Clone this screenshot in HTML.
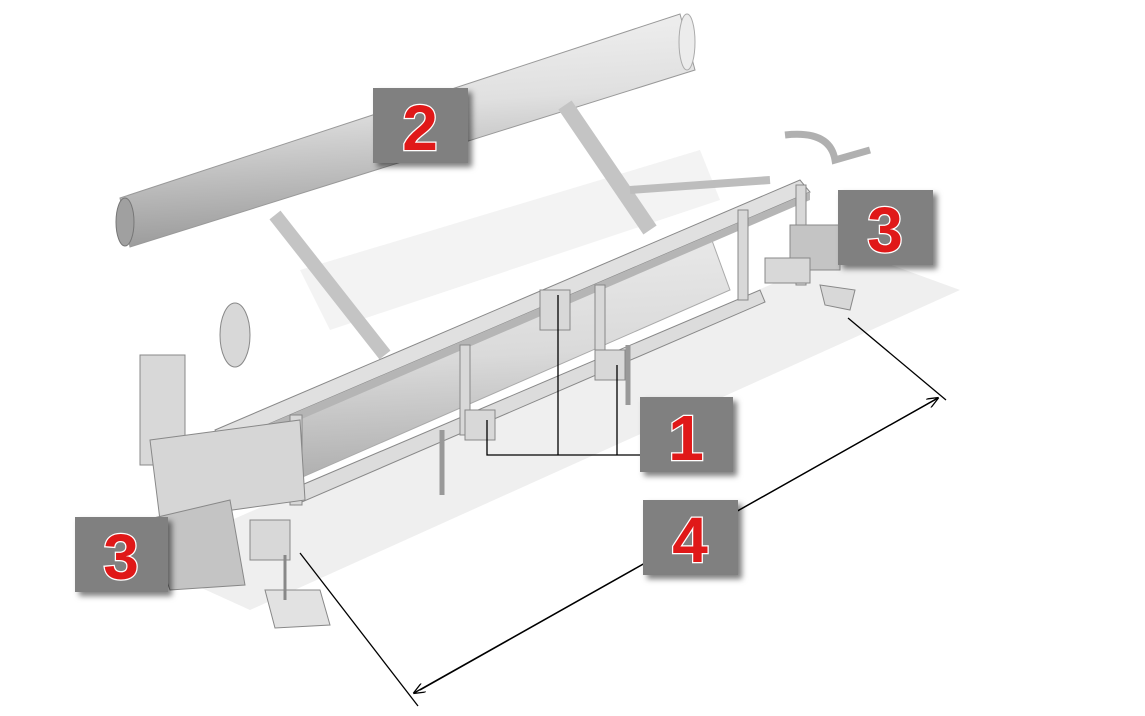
<!DOCTYPE html>
<html><head><style>
html,body{margin:0;padding:0;background:#fff;}
svg{display:block}
.lbl{font-family:"Liberation Sans",sans-serif;font-weight:bold;font-size:64px;fill:#e01818;stroke:#fff;stroke-width:2.5px;paint-order:stroke;}
</style></head><body>
<svg width="1145" height="716" viewBox="0 0 1145 716" xmlns="http://www.w3.org/2000/svg">
<defs>
<linearGradient id="pipe" x1="0" y1="0" x2="0.15" y2="1">
<stop offset="0" stop-color="#f4f4f4"/><stop offset="0.45" stop-color="#e0e0e0"/><stop offset="1" stop-color="#9a9a9a"/>
</linearGradient>
<linearGradient id="pipe2" x1="0" y1="0" x2="0.1" y2="1">
<stop offset="0" stop-color="#ececec"/><stop offset="0.5" stop-color="#dadada"/><stop offset="1" stop-color="#a8a8a8"/>
</linearGradient>
<filter id="sh" x="-20%" y="-20%" width="150%" height="150%"><feDropShadow dx="4" dy="4" stdDeviation="3" flood-color="#000" flood-opacity="0.5"/></filter>
<marker id="ar" markerWidth="12" markerHeight="10" refX="11" refY="5" orient="auto" markerUnits="userSpaceOnUse"><path d="M0,0 L12,5 L0,10" fill="none" stroke="#000" stroke-width="1.3"/></marker>
</defs>
<polygon points="140,560 250,610 960,290 850,250" fill="#efefef"/>
<polygon points="300,270 700,150 720,200 330,330" fill="#f3f3f3"/>
<polygon points="120,198 680,14 695,70 130,247" fill="url(#pipe)" stroke="#999" stroke-width="1"/>
<ellipse cx="125" cy="222" rx="9" ry="24" fill="#a0a0a0" stroke="#777"/>
<ellipse cx="687" cy="42" rx="8" ry="28" fill="#ececec" stroke="#aaa"/>
<line x1="275" y1="215" x2="385" y2="355" stroke="#c4c4c4" stroke-width="14"/>
<line x1="565" y1="105" x2="650" y2="230" stroke="#c4c4c4" stroke-width="16"/>
<line x1="630" y1="190" x2="770" y2="180" stroke="#bdbdbd" stroke-width="8"/>
<polygon points="230,440 710,235 730,290 250,500" fill="url(#pipe2)" stroke="#aaa"/>
<polygon points="215,430 800,180 810,192 222,444" fill="#e0e0e0" stroke="#888"/>
<polygon points="222,444 810,192 810,200 225,452" fill="#b5b5b5"/>
<polygon points="290,490 760,290 765,302 295,505" fill="#dcdcdc" stroke="#888"/>
<g fill="#d8d8d8" stroke="#888">
<rect x="460" y="345" width="10" height="90"/>
<rect x="595" y="285" width="10" height="90"/>
<rect x="738" y="210" width="10" height="90"/>
<rect x="290" y="415" width="12" height="90"/>
<rect x="796" y="185" width="10" height="100"/>
<rect x="540" y="290" width="30" height="40"/>
<rect x="595" y="350" width="30" height="30"/>
<rect x="465" y="410" width="30" height="30"/>
</g>
<line x1="442" y1="430" x2="442" y2="495" stroke="#999" stroke-width="5"/>
<line x1="628" y1="345" x2="628" y2="405" stroke="#999" stroke-width="5"/>
<g fill="#d8d8d8" stroke="#888">
<ellipse cx="235" cy="335" rx="15" ry="32"/>
<rect x="140" y="355" width="45" height="110"/>
<polygon points="150,440 300,420 305,500 160,520" fill="#d6d6d6"/>
<polygon points="145,520 230,500 245,585 170,590" fill="#c4c4c4"/>
<rect x="250" y="520" width="40" height="40"/>
<polygon points="265,590 320,590 330,625 275,628" fill="#e2e2e2"/>
<line x1="285" y1="555" x2="285" y2="600" stroke-width="3"/>
</g>
<g fill="#d8d8d8" stroke="#888">
<path d="M785,135 Q830,130 835,160 L870,150" fill="none" stroke="#b0b0b0" stroke-width="7"/>
<rect x="790" y="225" width="50" height="45" fill="#c4c4c4"/>
<rect x="765" y="258" width="45" height="25"/>
<polygon points="820,285 855,290 850,310 825,305"/>
</g>
<polyline points="487,420 487,455 640,455" fill="none" stroke="#000" stroke-width="1.3"/>
<line x1="558" y1="295" x2="558" y2="455" stroke="#000" stroke-width="1.3"/>
<line x1="617" y1="365" x2="617" y2="455" stroke="#000" stroke-width="1.3"/>
<line x1="300" y1="553" x2="418" y2="706" stroke="#000" stroke-width="1.3"/>
<line x1="848" y1="318" x2="946" y2="400" stroke="#000" stroke-width="1.3"/>
<line x1="420" y1="690" x2="938" y2="398" stroke="#000" stroke-width="1.3" marker-end="url(#ar)"/>
<line x1="938" y1="398" x2="414" y2="693" stroke="#000" stroke-width="1.3" marker-end="url(#ar)"/>
<g filter="url(#sh)" fill="#808080">
<rect x="373" y="88" width="95" height="75"/>
<rect x="838" y="190" width="95" height="75"/>
<rect x="640" y="397" width="93" height="75"/>
<rect x="643" y="500" width="95" height="75"/>
<rect x="75" y="517" width="93" height="75"/>
</g>
<text class="lbl" x="420" y="150" text-anchor="middle">2</text>
<text class="lbl" x="885" y="252" text-anchor="middle">3</text>
<text class="lbl" x="686" y="460" text-anchor="middle">1</text>
<text class="lbl" x="690" y="562" text-anchor="middle">4</text>
<text class="lbl" x="121" y="579" text-anchor="middle">3</text>
</svg>
</body></html>
